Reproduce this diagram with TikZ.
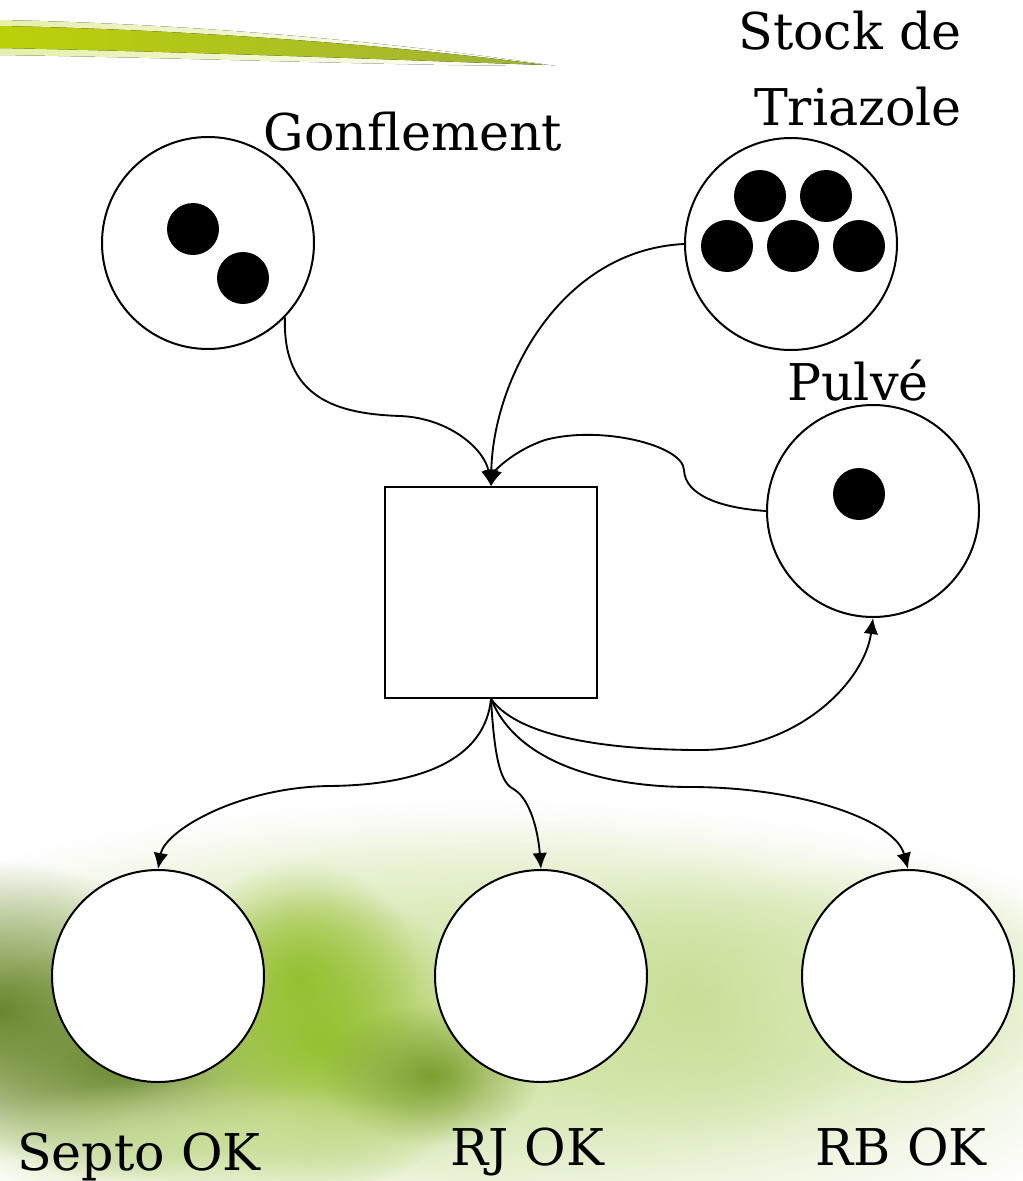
\documentclass[tikz,border=0pt]{standalone}
\usepackage{fontspec}
\setmainfont{DejaVu Serif}
\usetikzlibrary{arrows.meta,fadings,shapes.geometric}
\definecolor{olive}{RGB}{105,135,45}
\definecolor{leaf}{RGB}{150,192,50}
\definecolor{wash}{RGB}{200,222,150}
\definecolor{paleleaf}{RGB}{215,232,175}
\definecolor{stroke}{RGB}{185,210,8}
\tikzfading[name=blob, inner color=transparent!0, outer color=transparent!100]
\tikzset{
  place/.style={circle,draw=black,line width=1.5pt,fill=white,minimum size=159pt,inner sep=0pt},
  token/.style={circle,fill=black,minimum size=39pt,inner sep=0pt},
  trans/.style={rectangle,draw=black,line width=1.5pt,fill=white,minimum width=159pt,minimum height=158pt,inner sep=0pt},
  arc/.style={line width=1.4pt,-{Latex[length=12pt,width=11pt]}},
  lbl/.style={font=\fontsize{38}{44}\selectfont,anchor=base,inner sep=0pt},
  softblob/.style={fill=#1,path fading=blob}
}
\begin{document}
\begin{tikzpicture}[x=0.75pt,y=-0.75pt]
\useasboundingbox (0,0) rectangle (1022,1181);
\fill[white] (0,0) rectangle (1022,1181);
% background green
\fill[softblob=wash] (480,1030) ellipse (720 and 230);
\fill[softblob=paleleaf] (500,1000) ellipse (600 and 180);
\fill[softblob=olive] (0,1010) ellipse (190 and 150);
\fill[softblob=olive] (120,1060) ellipse (180 and 120);
\fill[softblob=leaf] (320,1040) ellipse (170 and 150);
\fill[softblob=leaf] (300,980) ellipse (120 and 120);
\fill[softblob=olive!60!leaf] (430,1075) ellipse (110 and 70);
\fill[softblob=wash] (700,1000) ellipse (200 and 140);
\fill[softblob=paleleaf] (880,980) ellipse (200 and 120);
\fill[softblob=wash] (200,1140) ellipse (250 and 60);
% top stroke
\fill[left color=stroke!35!white,right color=white] (0,20) .. controls (200,24) and (400,43) .. (556,66) .. controls (400,66) and (200,58) .. (0,55) -- cycle;
\fill[left color=stroke,middle color=stroke!92!black,right color=stroke!60!gray] (0,26) .. controls (200,30) and (400,46) .. (545,65) .. controls (400,60) and (200,52) .. (0,48) -- cycle;
% places
\node[place] (gonf) at (208,243) {};
\node[token] at (193,229) {};
\node[token] at (243,278) {};
\node[place] (stock) at (791,244) {};
\node[token] at (760,196) {};
\node[token] at (826,196) {};
\node[token] at (727,246) {};
\node[token] at (793,246) {};
\node[token] at (859,246) {};
\node[place] (pulve) at (873,511) {};
\node[token] at (859,494) {};
\node[trans] (t) at (491,592.5) {};
\node[place] (septo) at (158,976) {};
\node[place] (rj) at (541,976) {};
\node[place] (rb) at (908,976) {};
% labels
\node[lbl] (lgonf) at (413,150) {Gonflement};
\node[lbl] (lstock1) at (850,50) {Stock de};
\node[lbl] (lstock2) at (858,125) {Triazole};
\node[lbl] (lpulve) at (858,400) {Pulvé};
\node[lbl] (lsepto) at (139,1170) {Septo OK};
\node[lbl] (lrj) at (527,1165) {RJ OK};
\node[lbl] (lrb) at (901,1165) {RB OK};
% arcs in
\draw[arc] (gonf.-44) .. controls (282,400) and (340,414) .. (400,416) .. controls (450,418) and (485,450) .. (t.north);
\draw[arc] (stock.west) .. controls (560,250) and (493,380) .. (t.north);
\draw[arc] (pulve.west) .. controls (720,508) and (685,495) .. (684,470) .. controls (683,445) and (600,425) .. (545,440) .. controls (515,450) and (495,470) .. (t.north);
% arcs out
\draw[arc] (t.south) .. controls (485,760) and (420,785) .. (330,786) .. controls (240,787) and (165,830) .. (septo.north);
\draw[arc] (t.south) .. controls (495,770) and (503,784) .. (515,790) .. controls (530,800) and (538,830) .. (rj.north);
\draw[arc] (t.south) .. controls (520,770) and (620,787) .. (690,787) .. controls (800,787) and (895,820) .. (rb.north);
\draw[arc] (t.south) .. controls (520,740) and (620,750) .. (700,750) .. controls (800,750) and (865,680) .. (pulve.south);
\end{tikzpicture}
\end{document}
